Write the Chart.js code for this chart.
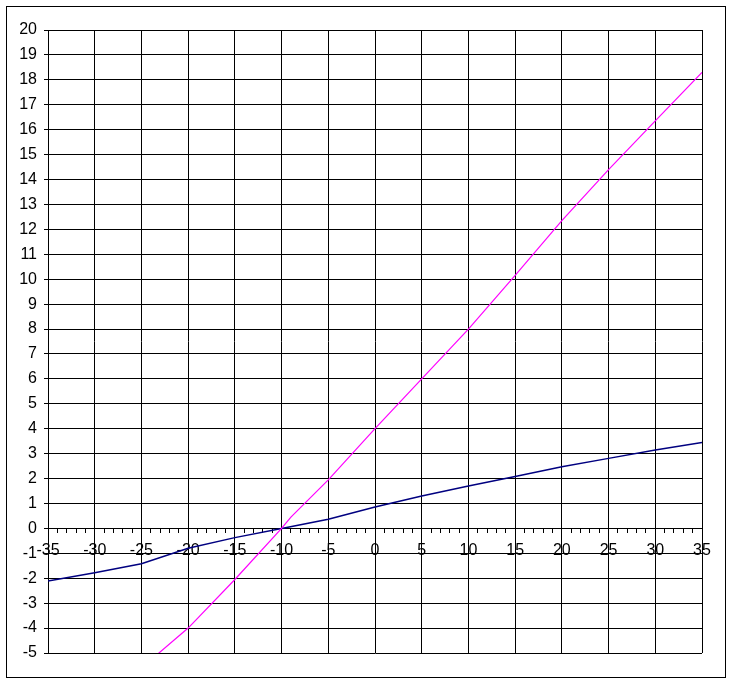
<!DOCTYPE html>
<html>
<head>
<meta charset="utf-8">
<script src="https://cdn.jsdelivr.net/npm/chart.js@4"></script>
<style>
  html, body { margin: 0; padding: 0; background: #fff; }
  #wrap { position: relative; width: 732px; height: 683px; }
  #frame { position: absolute; left: 6px; top: 6px; width: 720px; height: 672px; box-sizing: border-box; border: 1px solid #000; pointer-events: none; }
  canvas { display: block; }
</style>
</head>
<body>
<div id="wrap">
  <canvas id="c" width="732" height="683"></canvas>
  <div id="frame"></div>
</div>
<script>
// X values and series
const blueX = [-35, -30, -25, -20, -15, -10, -5, 0, 5, 10, 15, 20, 25, 30, 35];
const blueY = [-2.11, -1.78, -1.42, -0.80, -0.37, 0, 0.37, 0.86, 1.30, 1.70, 2.08, 2.47, 2.81, 3.15, 3.45];
const magentaX = [-25, -20, -15, -10, -9, -5, 0, 5, 10, 15, 20, 25, 30, 35];
const magentaY = [-5.6, -4.0, -2.05, 0, 0.45, 1.95, 4.0, 6.0, 8.0, 10.15, 12.35, 14.4, 16.35, 18.3];

// Axis settings
const xMin = -35, xMax = 35, xMajor = 5, xMinor = 1;
const yMin = -5, yMax = 20, yStep = 1;

const toPoints = (xs, ys) => xs.map((x, i) => ({ x: x, y: ys[i] }));

const FONT = { family: "'Liberation Sans', Arial, sans-serif", size: 16 };

new Chart(document.getElementById('c'), {
  type: 'scatter',
  data: {
    datasets: [
      {
        label: 'magenta',
        data: toPoints(magentaX, magentaY),
        showLine: true,
        borderColor: '#ff00ff',
        borderWidth: 1.2,
        pointRadius: 0,
        tension: 0
      },
      {
        label: 'blue',
        data: toPoints(blueX, blueY),
        showLine: true,
        borderColor: '#000080',
        borderWidth: 1.5,
        pointRadius: 0,
        tension: 0
      }
    ]
  },
  options: {
    responsive: false,
    animation: false,
    events: [],
    layout: { padding: { left: 0, top: 30, right: 30, bottom: 30 } },
    plugins: { legend: { display: false }, tooltip: { enabled: false }, title: { display: false } },
    scales: {
      x: {
        type: 'linear',
        position: { y: 0 },
        min: xMin, max: xMax,
        grid: {
          color: (ctx) => (ctx.tick && ctx.tick.value % xMajor === 0) ? '#000' : 'rgba(0,0,0,0)',
          tickColor: '#000',
          tickLength: 4,
          lineWidth: 1,
          drawTicks: true
        },
        border: { display: true, color: '#000', width: 1 },
        ticks: {
          stepSize: xMinor,
          autoSkip: false,
          maxRotation: 0, minRotation: 0,
          padding: 9,
          color: '#000',
          font: FONT,
          callback: (v) => (v % xMajor === 0) ? String(v) : ''
        }
      },
      y: {
        type: 'linear',
        position: 'left',
        min: yMin, max: yMax,
        afterFit: (s) => { s.width = 48; },
        grid: { color: '#000', tickColor: '#000', tickLength: 4, lineWidth: 1 },
        border: { display: true, color: '#000', width: 1 },
        ticks: {
          stepSize: yStep,
          autoSkip: false,
          padding: 7,
          color: '#000',
          font: FONT
        }
      }
    }
  }
});
</script>
</body>
</html>
